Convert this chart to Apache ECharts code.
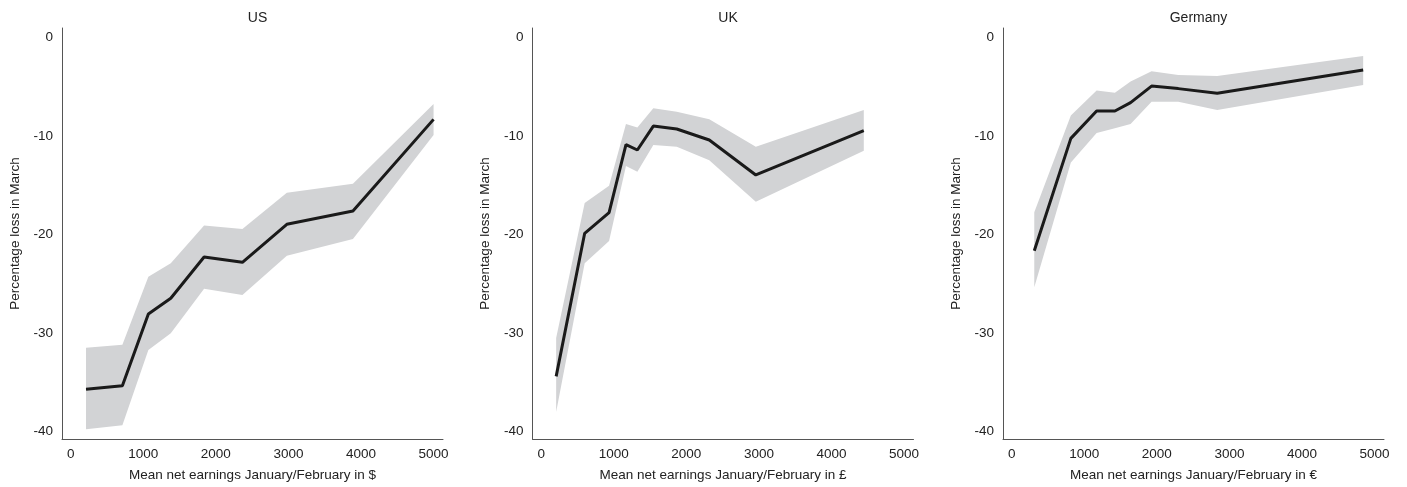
<!DOCTYPE html>
<html>
<head>
<meta charset="utf-8">
<script src="https://cdn.jsdelivr.net/npm/echarts@6/dist/echarts.min.js"></script>
<style>
  html, body { margin: 0; padding: 0; background: #fff; }
  #chart { width: 1407px; height: 487px; }
</style>
</head>
<body>
<div id="chart"></div>
<script>
// Panel titles and x-axis currency labels
const panelTitles = ['US', 'UK', 'Germany'];
const currencySymbols = ['$', '£', '€'];

// Mean net earnings January/February (x)
const usEarnings = [211, 712, 1070, 1379, 1838, 2366, 2978, 3889, 5000];
const ukEarnings = [206, 599, 935, 1168, 1325, 1545, 1868, 2316, 2957, 4445];
const deEarnings = [311, 815, 1170, 1422, 1638, 1927, 2295, 2832, 4843];

// Percentage loss in March: point estimate
const usLoss = [-35.7, -35.35, -28.06, -26.47, -22.28, -22.82, -18.97, -17.62, -8.32];
const ukLoss = [-34.4, -19.88, -17.79, -10.88, -11.43, -9.0, -9.3, -10.41, -13.96, -9.47];
const deLoss = [-21.65, -10.25, -7.47, -7.47, -6.62, -4.94, -5.2, -5.68, -3.31];

// Confidence band: upper bound
const usUpper = [-31.48, -31.2, -24.28, -22.92, -19.1, -19.44, -15.76, -14.85, -6.76];
const ukUpper = [-30.5, -16.8, -15.05, -8.8, -9.14, -7.2, -7.55, -8.3, -11.09, -7.37];
const deUpper = [-17.74, -7.93, -5.38, -5.62, -4.47, -3.45, -3.82, -3.92, -1.89];

// Confidence band: lower bound
const usLower = [-39.76, -39.35, -31.71, -30.02, -25.5, -26.14, -22.15, -20.46, -9.91];
const ukLower = [-38.0, -22.92, -20.65, -13.04, -13.63, -10.92, -11.09, -12.47, -16.67, -11.5];
const deLower = [-25.36, -12.7, -9.7, -9.23, -8.8, -6.53, -6.53, -7.37, -4.84];

// Tick labels
const xTicks = [0, 1000, 2000, 3000, 4000, 5000];
const yTicks = [-40, -30, -20, -10, 0];

const panels = [
  { x: usEarnings, y: usLoss, hi: usUpper, lo: usLower },
  { x: ukEarnings, y: ukLoss, hi: ukUpper, lo: ukLower },
  { x: deEarnings, y: deLoss, hi: deUpper, lo: deLower }
];

const FONT = 'Liberation Sans, Arial, Helvetica, sans-serif';
const TEXT = '#222';
const gridLefts = [62, 532.5, 1003];
const gridWidth = 381;

// Draws the whole confidence band as one polygon: upper bound left to right,
// then lower bound right to left, all mapped through the axes.
function renderBand(params, api) {
  if (params.dataIndexInside !== 0) return null;
  const n = params.dataInsideLength;
  const upper = [], lower = [];
  for (let k = 0; k < n; k++) {
    const x = api.value(0, k);
    upper.push(api.coord([x, api.value(2, k)]));
    lower.push(api.coord([x, api.value(1, k)]));
  }
  return {
    type: 'polygon',
    shape: { points: upper.concat(lower.reverse()) },
    style: { fill: '#d2d3d5' },
    silent: true
  };
}

const grids = [], xAxes = [], yAxes = [], titles = [], series = [];

panels.forEach((p, i) => {
  grids.push({ left: gridLefts[i], top: 28, width: gridWidth, height: 411 });
  titles.push({
    text: panelTitles[i],
    left: gridLefts[i] + gridWidth / 2,
    top: 6,
    textAlign: 'center',
    textStyle: { fontFamily: FONT, fontSize: 14, fontWeight: 'normal', color: TEXT }
  });
  xAxes.push({
    type: 'value', gridIndex: i, min: -120, max: 5130,
    name: 'Mean net earnings January/February in ' + currencySymbols[i],
    nameLocation: 'middle', nameGap: 29,
    nameTextStyle: { fontFamily: FONT, fontSize: 13.5, color: TEXT },
    axisLine: { show: true, onZero: false, lineStyle: { color: '#555', width: 1 } },
    axisTick: { show: false },
    splitLine: { show: false },
    axisLabel: {
      customValues: xTicks, margin: 8, formatter: v => String(v),
      fontFamily: FONT, fontSize: 13.5, color: TEXT
    }
  });
  yAxes.push({
    type: 'value', gridIndex: i, min: -40.75, max: 0.95,
    name: 'Percentage loss in March',
    nameLocation: 'middle', nameRotate: 90, nameGap: 40,
    nameTextStyle: { fontFamily: FONT, fontSize: 13.5, color: TEXT },
    axisLine: { show: true, onZero: false, lineStyle: { color: '#555', width: 1 } },
    axisTick: { show: false },
    splitLine: { show: false },
    axisLabel: {
      customValues: yTicks, margin: 9, formatter: v => String(v),
      fontFamily: FONT, fontSize: 13.5, color: TEXT
    }
  });

  // confidence band
  series.push({
    type: 'custom', xAxisIndex: i, yAxisIndex: i,
    renderItem: renderBand,
    encode: { x: 0, y: [1, 2] },
    data: p.x.map((x, k) => [x, p.lo[k], p.hi[k]]),
    clip: true, silent: true, z: 1
  });
  // point estimate
  series.push({
    type: 'line', xAxisIndex: i, yAxisIndex: i,
    data: p.x.map((x, k) => [x, p.y[k]]),
    symbol: 'none', lineStyle: { color: '#1a1a1a', width: 3 }, z: 3
  });
});

const chart = echarts.init(document.getElementById('chart'), null, { renderer: 'canvas' });
chart.setOption({
  animation: false,
  backgroundColor: '#fff',
  title: titles,
  grid: grids,
  xAxis: xAxes,
  yAxis: yAxes,
  series: series
});
</script>
</body>
</html>
